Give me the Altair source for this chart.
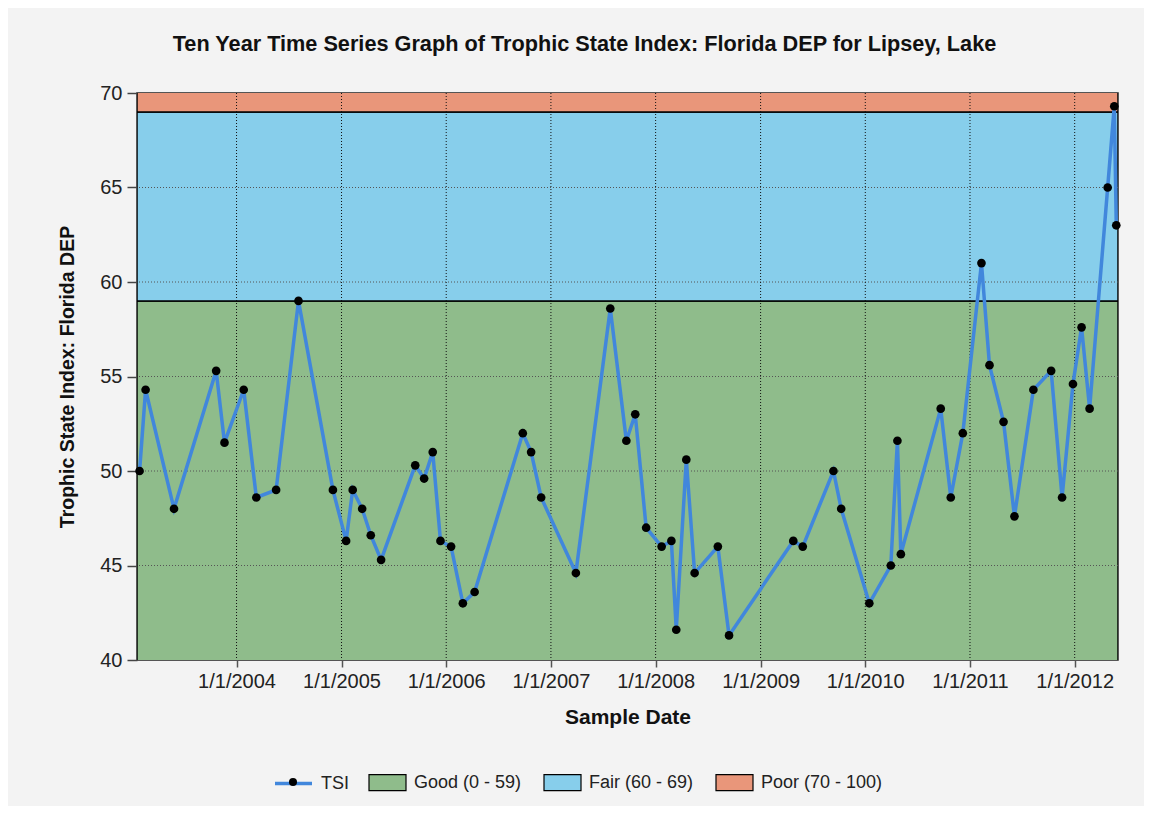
import altair as alt
import pandas as pd

FONT = "Liberation Sans"

title_text = "Ten Year Time Series Graph of Trophic State Index: Florida DEP for Lipsey, Lake"
x_title = "Sample Date"
y_title = "Trophic State Index: Florida DEP"

dates = [
    "2003-01-28", "2003-02-18", "2003-05-28", "2003-10-22", "2003-11-20",
    "2004-01-26", "2004-03-10", "2004-05-18", "2004-08-04", "2004-12-02",
    "2005-01-17", "2005-02-09", "2005-03-14", "2005-04-13", "2005-05-19",
    "2005-09-15", "2005-10-16", "2005-11-15", "2005-12-12", "2006-01-18",
    "2006-02-28", "2006-04-10", "2006-09-25", "2006-10-24", "2006-11-28",
    "2007-03-29", "2007-07-27", "2007-09-21", "2007-10-22", "2007-11-29",
    "2008-01-22", "2008-02-25", "2008-03-13", "2008-04-17", "2008-05-16",
    "2008-08-05", "2008-09-13", "2009-04-25", "2009-05-28", "2009-09-12",
    "2009-10-09", "2010-01-15", "2010-03-31", "2010-04-23", "2010-05-05",
    "2010-09-21", "2010-10-26", "2010-12-07", "2011-02-10", "2011-03-10",
    "2011-04-28", "2011-06-05", "2011-08-10", "2011-10-11", "2011-11-18",
    "2011-12-26", "2012-01-25", "2012-02-22", "2012-04-25", "2012-05-18",
    "2012-05-25",
]
tsi = [
    50.0, 54.3, 48.0, 55.3, 51.5,
    54.3, 48.6, 49.0, 59.0, 49.0,
    46.3, 49.0, 48.0, 46.6, 45.3,
    50.3, 49.6, 51.0, 46.3, 46.0,
    43.0, 43.6, 52.0, 51.0, 48.6,
    44.6, 58.6, 51.6, 53.0, 47.0,
    46.0, 46.3, 41.6, 50.6, 44.6,
    46.0, 41.3, 46.3, 46.0, 50.0,
    48.0, 43.0, 45.0, 51.6, 45.6,
    53.3, 48.6, 52.0, 61.0, 55.6,
    52.6, 47.6, 54.3, 55.3, 48.6,
    54.6, 57.6, 53.3, 65.0, 69.3,
    63.0,
]
series_name = "TSI"

band_names = ["Good (0 - 59)", "Fair (60 - 69)", "Poor (70 - 100)"]
band_lo = [0, 59, 69]
band_hi = [59, 69, 100]
band_colors = ["#8FBC8B", "#87CEEB", "#E9967A"]

tick_years = [2004, 2005, 2006, 2007, 2008, 2009, 2010, 2011, 2012]
y_ticks = [40, 45, 50, 55, 60, 65, 70]
y_grid = [45, 50, 55, 60, 65]

LINE_COLOR = "#4187DC"

df = pd.DataFrame({
    "date": [d + "T00:00:00" for d in dates],
    "tsi": tsi,
    "series": series_name,
    "series_pt": series_name,
})
bands = pd.DataFrame({"band": band_names, "lo": band_lo, "hi": band_hi})
years = pd.DataFrame({"year": [f"{y}-01-01T00:00:00" for y in tick_years]})
hgrid = pd.DataFrame({"v": y_grid})

x_scale = alt.Scale(
    domain=[alt.DateTime(year=2003, month=1, date=19), alt.DateTime(year=2012, month=5, date=31)],
    nice=False,
)
y_scale = alt.Scale(domain=[40, 70], nice=False, zero=False)

x_axis = alt.Axis(
    title=x_title,
    values=[alt.DateTime(year=y, month=1, date=1) for y in tick_years],
    format="%-m/%-d/%Y",
    grid=False, domain=False,
    tickColor="#555", tickSize=7, tickWidth=1.5,
    labelFont=FONT, labelFontSize=20, labelColor="#222", labelPadding=4,
    titleFont=FONT, titleFontSize=21, titleFontWeight="bold", titleColor="#111", titlePadding=15,
)
y_axis = alt.Axis(
    title=y_title,
    values=y_ticks,
    grid=False, domain=False,
    tickColor="#444", tickSize=10, tickWidth=1.5,
    labelFont=FONT, labelFontSize=20, labelColor="#222", labelPadding=5,
    titleFont=FONT, titleFontSize=19.5, titleFontWeight="bold", titleColor="#111", titlePadding=22,
)

band_layer = alt.Chart(bands).mark_rect(clip=True, stroke="black", strokeWidth=1.5).encode(
    x=alt.value(0),
    x2=alt.value("width"),
    y=alt.Y("lo:Q", scale=y_scale, axis=y_axis),
    y2="hi:Q",
    color=alt.Color(
        "band:N",
        scale=alt.Scale(domain=band_names, range=band_colors),
        legend=alt.Legend(
            title=None, orient="none", legendX=231, legendY=670, direction="horizontal",
            symbolType="M-1,-0.43H1V0.43H-1Z", symbolSize=1369,
            symbolStrokeColor="black", symbolStrokeWidth=1.2, symbolOpacity=1,
            labelFont=FONT, labelFontSize=18, labelColor="#222", labelOffset=7,
            columnPadding=19, labelLimit=300,
        ),
    ),
)

vgrid = alt.Chart(years).mark_rule(color="#111", strokeDash=[1, 2], strokeWidth=1).encode(
    x=alt.X("year:T", scale=x_scale, axis=x_axis)
)
hgrid_layer = alt.Chart(hgrid).mark_rule(color="#555", strokeDash=[1, 2], strokeWidth=1).encode(
    y=alt.Y("v:Q", scale=y_scale, axis=y_axis)
)

line = alt.Chart(df).mark_line(strokeWidth=3.5).encode(
    x=alt.X("date:T", scale=x_scale, axis=x_axis),
    y=alt.Y("tsi:Q", scale=y_scale, axis=y_axis),
    stroke=alt.Stroke(
        "series:N",
        scale=alt.Scale(domain=[series_name], range=[LINE_COLOR]),
        legend=alt.Legend(
            title=None, orient="none", legendX=136, legendY=670,
            symbolType="stroke", symbolSize=1369, symbolStrokeWidth=3.5,
            labelFont=FONT, labelFontSize=18, labelColor="#222", labelOffset=7,
        ),
    ),
)

points = alt.Chart(df).mark_circle(size=75, opacity=1).encode(
    x=alt.X("date:T", scale=x_scale, axis=x_axis),
    y=alt.Y("tsi:Q", scale=y_scale, axis=y_axis),
    fill=alt.Fill(
        "series_pt:N",
        scale=alt.Scale(range=["black"]),
        legend=alt.Legend(
            title=None, orient="none", legendX=151, legendY=684,
            symbolType="circle", symbolSize=64, symbolOpacity=1,
            labelExpr="''", labelFontSize=1, labelOffset=0,
        ),
    ),
)

chart = alt.layer(band_layer, hgrid_layer, vgrid, line, points).properties(
    width=981,
    height=567,
    title=alt.TitleParams(
        text=title_text, font=FONT, fontSize=21.7, fontWeight="bold", color="#111",
        anchor="middle", frame="group", dx=-43, offset=27,
    ),
    autosize=alt.AutoSizeParams(type="none"),
    padding={"left": 129, "top": 85, "right": 26, "bottom": 146},
    background="#F3F3F3",
).configure_view(stroke="#222", strokeWidth=1.5)

chart.save("out.html", embed_options={"renderer": "svg", "actions": False})
